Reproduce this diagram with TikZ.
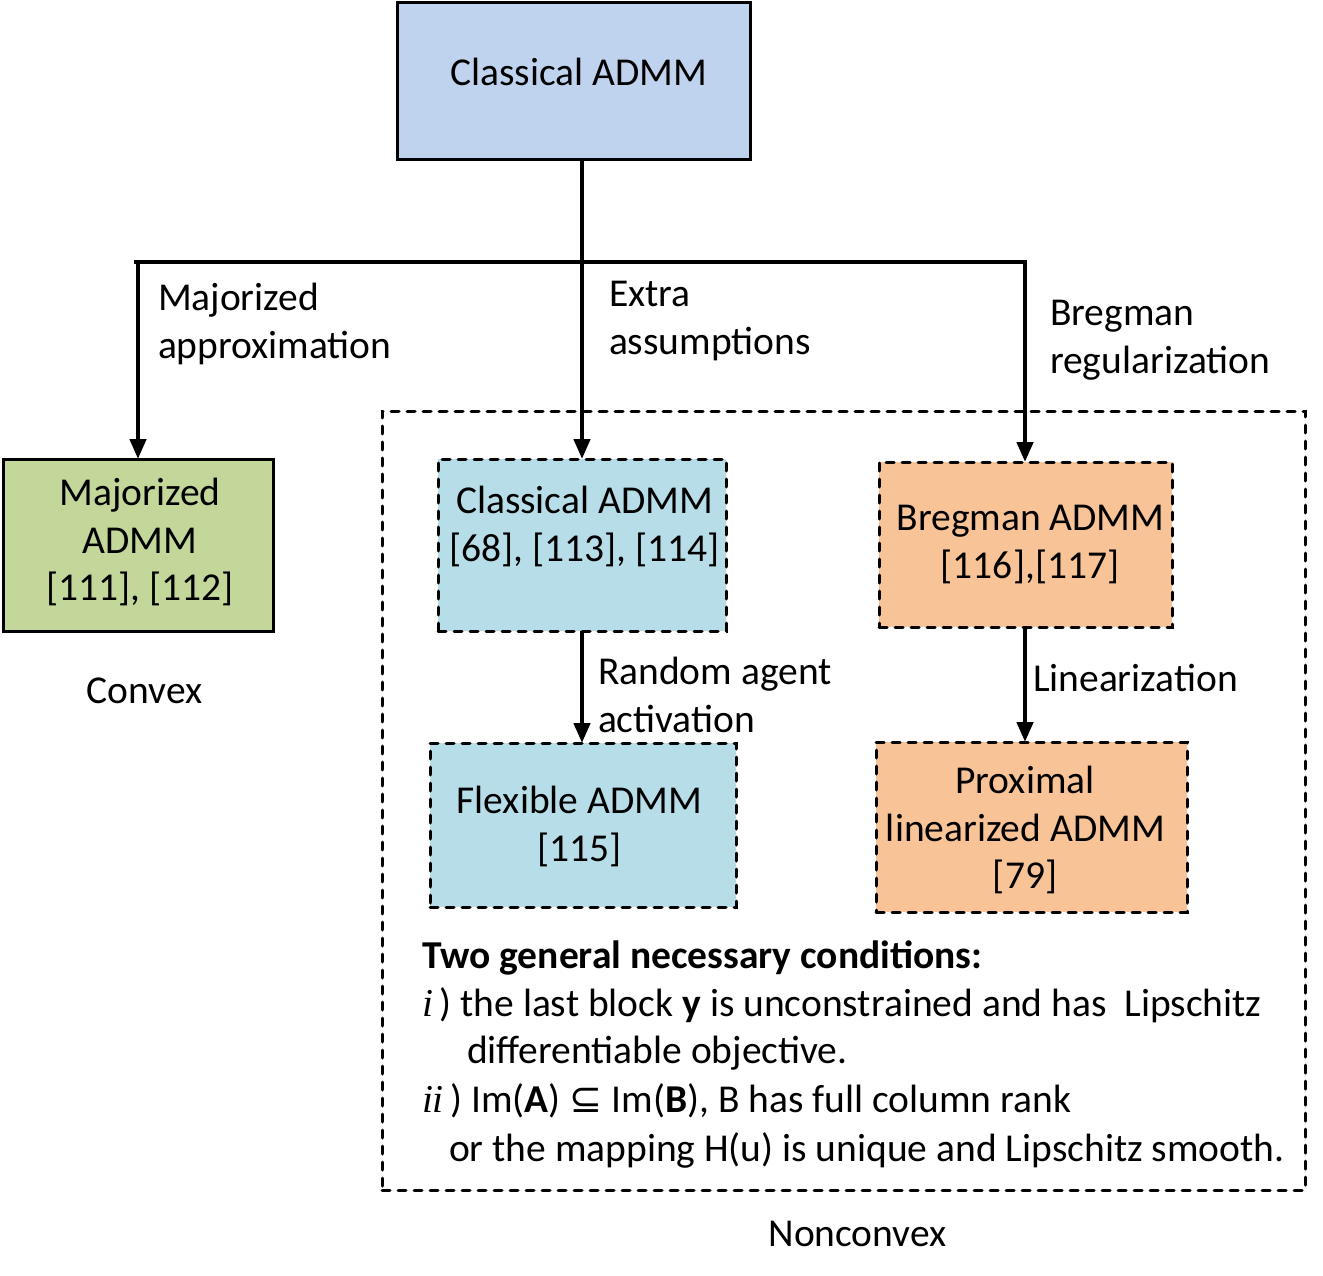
\documentclass[tikz,border=0pt]{standalone}
\usepackage{fontspec}
\setmainfont{Carlito}
\newfontfamily\tmsfont{Liberation Serif}
\newfontfamily\djvfont{DejaVu Sans}
\usetikzlibrary{arrows.meta}
\definecolor{topblue}{RGB}{192,211,238}
\definecolor{olivegreen}{RGB}{196,215,155}
\definecolor{aqua}{RGB}{183,221,232}
\definecolor{peach}{RGB}{249,195,152}
\begin{document}
\begin{tikzpicture}[x=1pt,y=-1pt,
  every node/.style={font=\fontsize{39.5}{48}\selectfont, inner sep=0pt, outer sep=0pt},
  lbl/.style={anchor=base west},
  ctr/.style={anchor=base},
  solidbox/.style={draw=black, line width=3pt, fill=#1},
  dashbox/.style={draw=black, line width=3pt, line cap=round, dash pattern=on 8pt off 8pt, fill=#1},
  conn/.style={line width=4.5pt},
  arr/.style={conn, -{Triangle[length=20pt,width=16pt]}},
]
\useasboundingbox (0,0) rectangle (1323,1276);

% boxes
\node[solidbox=topblue, minimum width=353pt, minimum height=157pt] (top) at (573.5,81.5) {};
\node[solidbox=olivegreen, minimum width=270pt, minimum height=172pt] (maj) at (138,545) {};
\node[dashbox=white, minimum width=923pt, minimum height=779pt] (ncv) at (843.5,800.5) {};
\node[dashbox=aqua, minimum width=288pt, minimum height=172pt] (cls) at (582,545) {};
\node[dashbox=aqua, minimum width=306pt, minimum height=164pt] (flex) at (583,825) {};
\node[dashbox=peach, minimum width=293pt, minimum height=165pt] (breg) at (1025.5,544.5) {};
\node[dashbox=peach, minimum width=311pt, minimum height=170pt] (prox) at (1031.5,827) {};

% connectors
\coordinate (hl) at (136,262);
\coordinate (hr) at (1025,262);
\draw[conn, line cap=rect] (hl) -- (hr);
\draw[arr] (cls.north |- top.south) -- (cls.north);
\draw[arr] (hl -| maj.north) -- (maj.north);
\draw[arr] (hr) -- (hr |- breg.north);
\draw[arr] (cls.south) -- (cls.south |- flex.north);
\draw[arr] (hr |- breg.south) -- (hr |- prox.north);

% texts in boxes
\node[ctr] (ttop) at (579,86) {Classical ADMM};
\node[ctr] (tmaj1) at (140,505) {Majorized};
\node[ctr] (tmaj2) at (140,553) {ADMM};
\node[ctr] (tmaj3) at (140,600) {[111], [112]};
\node[ctr] (tcls1) at (584.5,513) {Classical ADMM};
\node[ctr] (tcls2) at (584.5,561) {[68], [113], [114]};
\node[ctr] (tflex1) at (579.5,813) {Flexible ADMM};
\node[ctr] (tflex2) at (579.5,861) {[115]};
\node[ctr] (tbreg1) at (1030.5,530) {Bregman ADMM};
\node[ctr] (tbreg2) at (1030,578) {[116],[117]};
\node[ctr] (tprox1) at (1025,793) {Proximal};
\node[ctr] (tprox2) at (1025.5,841) {linearized ADMM};
\node[ctr] (tprox3) at (1025,888) {[79]};

% edge labels
\node[lbl] (lmaj1) at (158,310) {Majorized};
\node[lbl] (lmaj2) at (158,358) {approximation};
\node[lbl] (lext1) at (609,306) {Extra};
\node[lbl] (lext2) at (609,354) {assumptions};
\node[lbl] (lbr1) at (1050,325) {Bregman};
\node[lbl] (lbr2) at (1050,373) {regularization};
\node[lbl] (lra1) at (598,684) {Random agent};
\node[lbl] (lra2) at (598,732) {activation};
\node[lbl] (llin) at (1033,691) {Linearization};

% region labels
\node[ctr] (tconvex) at (144.5,703) {Convex};
\node[ctr] (tnonconvex) at (857.5,1246) {Nonconvex};

% conditions
\node[lbl] (c1) at (422,968) {\textbf{Two general necessary conditions:}};
\node[lbl] (c2) at (422,1016) {{\tmsfont\itshape i}\,) the last block \textbf{y} is unconstrained and has\ \ Lipschitz};
\node[lbl] (c3) at (467,1063) {differentiable objective.};
\node[lbl] (c4) at (422,1112) {{\tmsfont\itshape ii}\,) Im(\textbf{A}) {\djvfont ⊆} Im(\textbf{B}), B has full column rank};
\node[lbl] (c5) at (449,1161) {or the mapping H(u) is unique and Lipschitz smooth.};
\end{tikzpicture}
\end{document}
